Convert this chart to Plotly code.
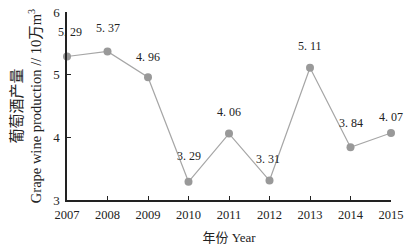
import plotly.graph_objects as go

years = [2007, 2008, 2009, 2010, 2011, 2012, 2013, 2014, 2015]
production = [5.29, 5.37, 4.96, 3.29, 4.06, 3.31, 5.11, 3.84, 4.07]
y_ticks = [3, 4, 5, 6]
x_title = "年份 Year"
y_title = ("<span style='font-size:15px'>葡萄酒产量</span><br>"
           "Grape wine production // 10万m<sup>3</sup>")

# label offsets (pixels) relative to each point
label_dx = [3, 0, 0, 0, 0, -2, 0, 0, 0]
label_dy = [24, 23, 20, 26, 22, 22, 22, 24, 16]

serif = "Liberation Serif, DejaVu Serif, serif"
mixed = "Liberation Serif, Noto Sans CJK SC"

fig = go.Figure()
fig.add_trace(go.Scatter(
    x=years, y=production, mode="lines+markers",
    line=dict(color="#a6a6a6", width=1.2),
    marker=dict(color="#999999", size=8),
    cliponaxis=False, showlegend=False,
))

for x, y, dx, dy in zip(years, production, label_dx, label_dy):
    fig.add_annotation(
        x=x, y=y, text=f"{y:.2f}".replace(".", ". "), showarrow=False,
        xshift=dx, yshift=dy, font=dict(family=serif, size=12, color="#222"),
    )

fig.update_layout(
    width=412, height=250,
    margin=dict(l=67, r=21, t=12, b=50),
    plot_bgcolor="white", paper_bgcolor="white",
    font=dict(family=serif, size=12, color="#222"),
)
fig.update_xaxes(
    range=[2007, 2015], tickvals=years, ticktext=[str(y) for y in years],
    showgrid=False, zeroline=False, showline=True, linecolor="#222", linewidth=1.5,
    ticks="inside", ticklen=4, tickcolor="#222", automargin=False,
    ticklabelstandoff=2, tickfont=dict(size=12.5),
    title=dict(text=x_title, standoff=12, font=dict(family=mixed, size=13)),
)
fig.update_yaxes(
    range=[3, 6], tickvals=y_ticks,
    showgrid=False, zeroline=False, showline=True, linecolor="#222", linewidth=1.5,
    ticks="inside", ticklen=4, tickcolor="#222", tickfont=dict(size=13),
    automargin=False, ticklabelstandoff=3,
    title=dict(text=y_title, standoff=8, font=dict(family=mixed, size=14.5)),
)

fig.write_html("out.html")
